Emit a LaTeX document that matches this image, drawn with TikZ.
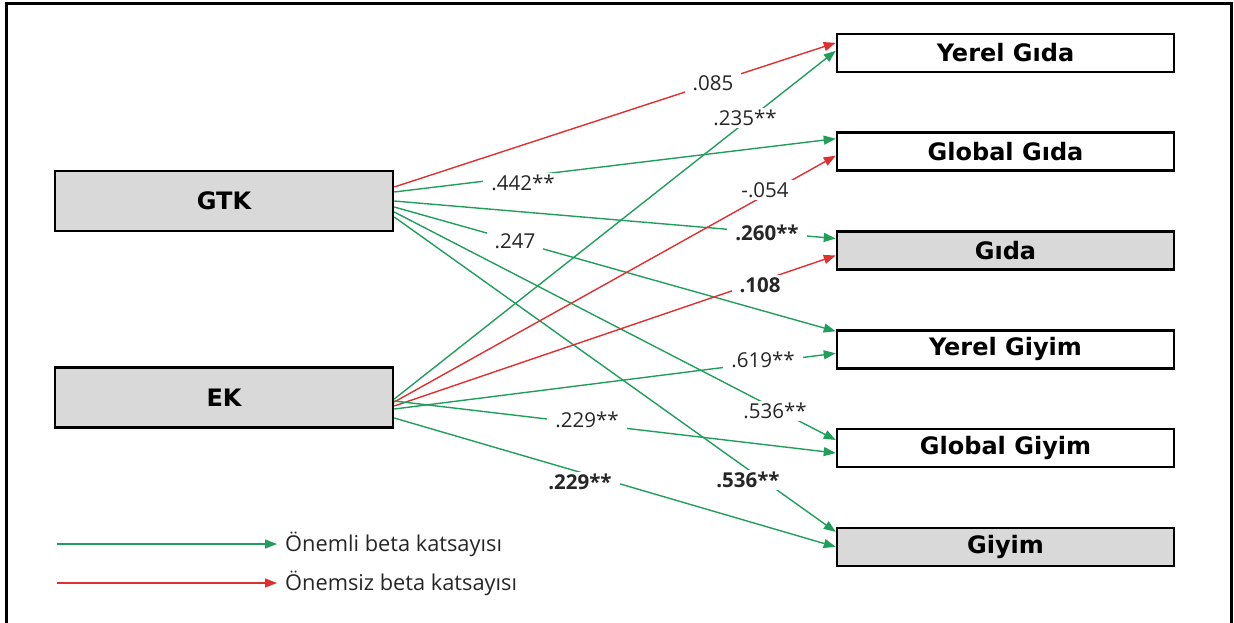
\documentclass[tikz,border=0pt]{standalone}
\usepackage{fontspec}
\setmainfont{Open Sans}
\newfontfamily\boxfont{DejaVu Sans}
\usetikzlibrary{arrows.meta,calc}
\definecolor{sigcol}{RGB}{34,158,92}
\definecolor{nscol}{RGB}{222,48,48}
\definecolor{boxgray}{RGB}{217,217,217}
\tikzset{
  srcbox/.style={draw=black,line width=2.5pt,fill=boxgray,minimum width=338pt,
    minimum height=60pt,inner sep=0pt,font=\boxfont\bfseries\fontsize{24}{24}\selectfont},
  outbox/.style={draw=black,line width=2.5pt,fill=white,minimum width=337pt,
    minimum height=38pt,inner sep=0pt,font=\boxfont\bfseries\fontsize{24}{24}\selectfont},
  graybox/.style={outbox,fill=boxgray},
  sig/.style={draw=sigcol,line width=1.4pt,-{Triangle[length=12pt,width=9pt]}},
  ns/.style={draw=nscol,line width=1.4pt,-{Triangle[length=12pt,width=9pt]}},
  coef/.style={fill=white,inner xsep=8pt,inner ysep=2pt,text=black!85,
    font=\fontsize{20.5}{20.5}\selectfont},
  coefb/.style={coef,font=\bfseries\fontsize{20.5}{20.5}\selectfont},
  legtext/.style={anchor=west,inner sep=0pt,text=black!85,font=\fontsize{21.8}{21.8}\selectfont}
}
\begin{document}
\begin{tikzpicture}[x=1pt,y=-1pt]
\useasboundingbox (0,0) rectangle (1234,623);
\clip (0,0) rectangle (1234,623);
% outer frame (its lower edge lies below the page)
\draw[line width=3pt] (6.5,660) -- (6.5,3.5) -- (1231.5,3.5) -- (1231.5,660);

% predictors
\node[srcbox] (gtk) at (224,201) {GTK};
\node[srcbox] (ek) at (224,397.5) {EK};

% outcomes
\node[outbox]  (yg)    at (1005.5,52.8)  {Yerel Gıda};
\node[outbox]  (gg)    at (1005.5,151.7) {Global Gıda};
\node[graybox] (gida)  at (1005.5,250.5) {Gıda};
\node[outbox]  (yy)    at (1005.5,349.3) {Yerel Giyim};
\node[outbox]  (gy)    at (1005.5,448)   {Global Giyim};
\node[graybox] (giyim) at (1005.5,546.9) {Giyim};

% paths from GTK
\draw[ns]  ($(gtk.east)+(0,-14)$) -- ($(yg.west)+(0,-10)$);
\draw[sig] ($(gtk.east)+(0,-9)$)  -- ($(gg.west)+(0,-13)$);
\draw[sig] ($(gtk.east)+(0,0)$)   -- ($(gida.west)+(0,-12)$);
\draw[sig] ($(gtk.east)+(0,6)$)   -- ($(yy.west)+(0,-18)$);
\draw[sig] ($(gtk.east)+(0,11)$)  -- ($(gy.west)+(0,-8)$);
\draw[sig] ($(gtk.east)+(0,16)$)  -- ($(giyim.west)+(0,-15)$);

% paths from EK
\draw[sig] ($(ek.east)+(0,1.5)$)  -- ($(yg.west)+(0,-2)$);
\draw[ns]  ($(ek.east)+(0,4.5)$)  -- ($(gg.west)+(0,4)$);
\draw[ns]  ($(ek.east)+(0,8.5)$)  -- ($(gida.west)+(0,5)$);
\draw[sig] ($(ek.east)+(0,11.5)$) -- ($(yy.west)+(0,4)$);
\draw[sig] ($(ek.east)+(0,3.5)$)  -- ($(gy.west)+(0,5)$);
\draw[sig] ($(ek.east)+(0,20.5)$) -- ($(giyim.west)+(0,0)$);

% coefficients
\node[coef]  (c1)  at (713,83)  {.085};
\node[coef]  (c2)  at (745,118) {.235**};
\node[coef]  (c3)  at (523,183) {.442**};
\node[coef]  (c4)  at (765,190) {-.054};
\node[coefb] (c5)  at (767,233) {.260**};
\node[coef]  (c6)  at (515,241) {.247};
\node[coefb] (c7)  at (760,285) {.108};
\node[coef]  (c8)  at (763,360) {.619**};
\node[coef]  (c9)  at (775,411) {.536**};
\node[coef]  (c10) at (587,420) {.229**};
\node[coefb] (c11) at (580,482) {.229**};
\node[coefb] (c12) at (748,480) {.536**};

% legend
\coordinate (lg1) at (57,544);
\coordinate (lg2) at (277,544);
\coordinate (lr1) at (57,583);
\coordinate (lr2) at (277,583);
\draw[sig] (lg1) -- (lg2);
\draw[ns]  (lr1) -- (lr2);
\node[legtext] (t1) at (285,544) {Önemli beta katsayısı};
\node[legtext] (t2) at (285,583) {Önemsiz beta katsayısı};
\end{tikzpicture}
\end{document}
